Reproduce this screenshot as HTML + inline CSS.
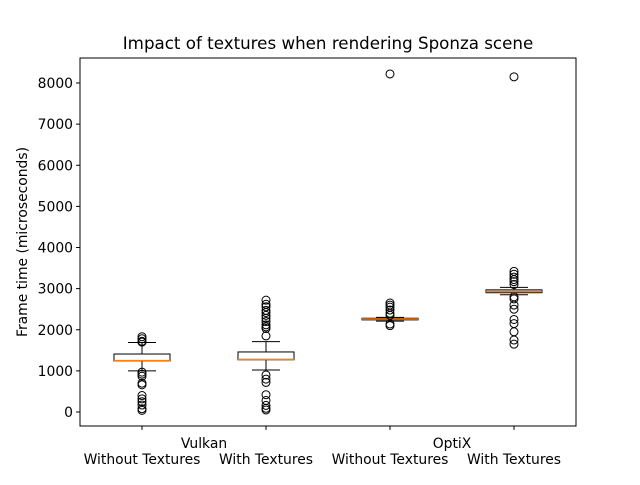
<!DOCTYPE html>
<html><head><meta charset="utf-8"><style>body{margin:0;background:#fff}svg{font-family:"DejaVu Sans","Liberation Sans",sans-serif}</style></head>
<body>
<svg id="chart" width="640" height="480">
<rect width="640" height="480" fill="#fff"/>
<text x="328" y="49" text-anchor="middle" font-size="16.7">Impact of textures when rendering Sponza scene</text>
<g id="plot"></g>
<rect x="80" y="58" width="496" height="368" fill="none" stroke="#000" stroke-width="1"/>
<text transform="translate(27,242) rotate(-90)" text-anchor="middle" font-size="13.9">Frame time (microseconds)</text>
</svg>
<script>
const categories=["Without Textures","With Textures","Without Textures","With Textures"];
const groups=["Vulkan","OptiX"];
const q1=[1240,1270,2240,2900];
const med=[1250,1280,2260,2930];
const q3=[1410,1460,2280,2970];
const whiskLo=[1000,1020,2210,2850];
const whiskHi=[1690,1710,2300,3030];
const fliers=[
 [1830,1780,1720,1700,970,920,870,700,660,400,320,250,170,80,40],
 [2720,2620,2560,2470,2420,2350,2280,2200,2120,2070,2030,1850,900,800,720,420,280,160,90,50],
 [8220,2650,2600,2550,2480,2400,2350,2140,2100],
 [8150,3420,3350,3280,3220,3170,3100,2800,2750,2600,2500,2250,2150,1950,1750,1650]
];
const yTicks=[0,1000,2000,3000,4000,5000,6000,7000,8000];
const y=v=>412-v*(412-83)/8000;
const x=i=>142+i*124;
const ns="http://www.w3.org/2000/svg";
const g=document.getElementById('plot');
function mk(t,a){const e=document.createElementNS(ns,t);for(const k in a)e.setAttribute(k,a[k]);g.appendChild(e);return e;}
yTicks.forEach(v=>{
 const t=mk('line',{x1:76,x2:80,y1:y(v),y2:y(v),stroke:'#000'});
 
 
 const l=mk('text',{x:73,y:y(v)+5,'text-anchor':'end','font-size':13.9});l.textContent=v;
 
 
});
categories.forEach((c,i)=>{
 const cx=x(i);
 const t=mk('line',{x1:cx,x2:cx,y1:426,y2:430,stroke:'#000'});
 
 
 const l=mk('text',{x:cx,y:464,'text-anchor':'middle','font-size':13.9});l.textContent=c;
 
 
 const w1=mk('line',{x1:cx,x2:cx,y1:y(q3[i]),y2:y(whiskHi[i]),stroke:'#000'});
 
 
 const w2=mk('line',{x1:cx,x2:cx,y1:y(q1[i]),y2:y(whiskLo[i]),stroke:'#000'});
 
 
 [whiskHi[i],whiskLo[i]].forEach(v=>{const c2=mk('line',{x1:cx-14,x2:cx+14,y1:y(v),y2:y(v),stroke:'#000'});
  
  });
 const b=mk('rect',{x:cx-28,y:y(q3[i]),width:56,height:y(q1[i])-y(q3[i]),fill:'none',stroke:'#000'});
 
 
 const m=mk('line',{x1:cx-28,x2:cx+28,y1:y(med[i]),y2:y(med[i]),stroke:'#ff7f0e','stroke-width':1.5});
 
 
 fliers[i].forEach(v=>{const p=mk('circle',{cx:cx,cy:y(v),r:4,fill:'none',stroke:'#000'});
  
  });
});
groups.forEach((gname,j)=>{
 const l=mk('text',{x:(x(2*j)+x(2*j+1))/2,y:448,'text-anchor':'middle','font-size':13.9});l.textContent=gname;
 
 
});
</script>
</body></html>
